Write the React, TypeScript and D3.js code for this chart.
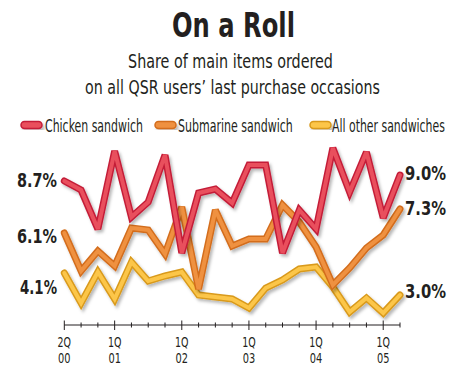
import React from "react";
import * as d3 from "d3";

const quarters = [
  "2Q00", "3Q00", "4Q00",
  "1Q01", "2Q01", "3Q01", "4Q01",
  "1Q02", "2Q02", "3Q02", "4Q02",
  "1Q03", "2Q03", "3Q03", "4Q03",
  "1Q04", "2Q04", "3Q04", "4Q04",
  "1Q05", "2Q05",
];

const chicken = [8.7, 8.25, 6.3, 10.2, 6.9, 7.65, 10.0, 5.1, 8.1, 8.3, 7.6, 9.5, 9.5, 5.1, 7.25, 6.3, 10.35, 8.15, 10.15, 6.85, 9.0];
const submarine = [6.1, 4.2, 5.2, 4.45, 6.35, 6.25, 5.05, 7.4, 3.3, 7.25, 5.45, 5.8, 5.8, 7.5, 6.65, 5.4, 3.5, 4.35, 5.35, 6.0, 7.3];
const other = [4.1, 2.6, 4.15, 2.8, 4.65, 3.7, 3.95, 4.15, 3.0, 2.9, 2.8, 2.35, 3.35, 3.75, 4.3, 4.4, 3.4, 2.15, 2.85, 2.1, 3.0];

const seriesNames = ["Chicken sandwich", "Submarine sandwich", "All other sandwiches"];

const COND = "'DejaVu Sans Condensed', 'Liberation Sans Narrow', sans-serif";

let ctx: CanvasRenderingContext2D | null = null;
function measure(text: string, size: number, bold: boolean): number {
  if (!ctx) {
    const c = document.createElement("canvas");
    ctx = c.getContext("2d");
  }
  if (!ctx) return text.length * size * 0.5;
  ctx.font = `${bold ? "bold " : ""}${size}px 'DejaVu Sans Condensed', 'Liberation Sans Narrow', sans-serif`;
  return ctx.measureText(text).width;
}

function CText(props: { x: number; y: number; w: number; size: number; bold?: boolean; anchor?: "start" | "middle" | "end"; children: string }) {
  const { x, y, w, size, bold = false, anchor = "start", children } = props;
  const nat = measure(children, size, bold);
  const s = nat > 0 ? w / nat : 1;
  return (
    <text transform={`translate(${x},${y}) scale(${s},1)`} textAnchor={anchor} fontFamily={COND}
      fontWeight={bold ? "bold" : "normal"} fontSize={size} fill="#231f20">{children}</text>
  );
}

export default function App() {
  const W = 461, H = 366;
  const x = d3.scaleLinear().domain([0, quarters.length - 1]).range([64.3, 400]);
  const y = d3.scaleLinear().domain([2, 10.5]).range([315, 145]);
  const line = d3.line<number>().x((_, i) => x(i)).y((d) => y(d));

  const series = [
    { name: seriesNames[2], data: other, outer: "#d99a1c", inner: "#fcc64a" },
    { name: seriesNames[1], data: submarine, outer: "#d36d1d", inner: "#ef9140" },
    { name: seriesNames[0], data: chicken, outer: "#c41d38", inner: "#e9505d" },
  ];

  const legend = [
    { name: seriesNames[0], outer: "#c41d38", inner: "#e9505d", sx: 21, tx: 45, tw: 98 },
    { name: seriesNames[1], outer: "#d36d1d", inner: "#ef9140", sx: 155, tx: 178, tw: 115 },
    { name: seriesNames[2], outer: "#d99a1c", inner: "#fcc64a", sx: 310, tx: 332, tw: 113 },
  ];

  const first = [chicken[0], submarine[0], other[0]];
  const last = [chicken[chicken.length - 1], submarine[submarine.length - 1], other[other.length - 1]];
  const leftLabelY = [187, 243, 294];
  const rightLabelY = [180, 215, 298];

  const axisY = 325;

  return (
    <svg width={W} height={H} style={{ position: "absolute", left: 0, top: 0, background: "#fff" }}>
      <defs>
        <filter id="sh" x="-10%" y="-10%" width="130%" height="130%">
          <feDropShadow dx="2" dy="2.5" stdDeviation="1.6" floodColor="#000" floodOpacity="0.28" />
        </filter>
      </defs>
      <rect width={W} height={H} fill="#fff" />
      <CText x={233.5} y={37} w={123} size={34} bold anchor="middle">On a Roll</CText>
      <CText x={230.5} y={68} w={205} size={20} anchor="middle">Share of main items ordered</CText>
      <CText x={232.5} y={94} w={295} size={20} anchor="middle">on all QSR users’ last purchase occasions</CText>

      {legend.map((l) => (
        <g key={l.name}>
          <rect x={l.sx} y={121.5} width={21} height={7} rx={3.5} fill={l.inner} stroke={l.outer} strokeWidth={1.5} filter="url(#sh)" />
          <CText x={l.tx} y={132} w={l.tw} size={17}>{l.name}</CText>
        </g>
      ))}

      {series.map((s) => (
        <g key={s.name} filter="url(#sh)">
          <path d={line(s.data) || ""} fill="none" stroke={s.outer} strokeWidth={7} strokeLinejoin="miter" strokeMiterlimit={3} strokeLinecap="round" />
          <path d={line(s.data) || ""} fill="none" stroke={s.inner} strokeWidth={4} strokeLinejoin="miter" strokeMiterlimit={3} strokeLinecap="round" />
        </g>
      ))}

      {first.map((v, i) => (
        <CText key={"l" + i} x={57} y={leftLabelY[i]} w={i === 2 ? 37 : 40} size={20} bold anchor="end">{`${v.toFixed(1)}%`}</CText>
      ))}
      {last.map((v, i) => (
        <CText key={"r" + i} x={405} y={rightLabelY[i]} w={41} size={20} bold>{`${v.toFixed(1)}%`}</CText>
      ))}

      <line x1={x(0)} x2={x(quarters.length - 1)} y1={axisY} y2={axisY} stroke="#231f20" strokeWidth={1} />
      {quarters.map((q, i) => {
        const major = i === 0 || q.startsWith("1Q");
        return (
          <g key={q}>
            <line x1={x(i)} x2={x(i)} y1={major ? axisY - 4.5 : axisY - 2.5} y2={major ? axisY + 5 : axisY + 2.5}
              stroke="#231f20" strokeWidth={1} />
            {major && (
              <>
                <CText x={x(i)} y={346.5} w={13.5} size={14.5} anchor="middle">{q.slice(0, 2)}</CText>
                <CText x={x(i)} y={362.5} w={12.5} size={14.5} anchor="middle">{q.slice(2)}</CText>
              </>
            )}
          </g>
        );
      })}
    </svg>
  );
}
